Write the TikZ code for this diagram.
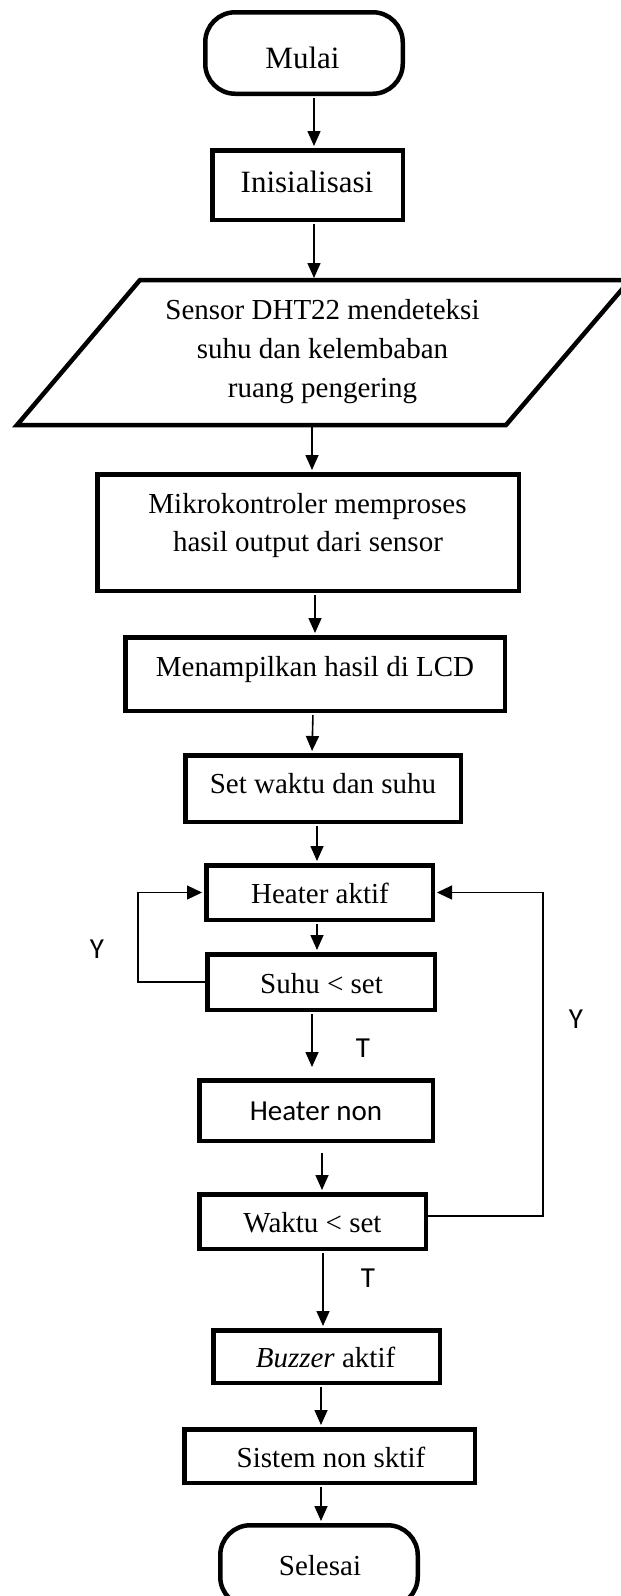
\documentclass[tikz,border=0pt]{standalone}
\usepackage{fontspec}
\setmainfont{Liberation Serif}
\newfontfamily\calib{Carlito}
\usetikzlibrary{arrows.meta}
\begin{document}
\begin{tikzpicture}[x=1pt,y=-1pt,
  box/.style={draw, line width=4.5pt, inner sep=0pt, rectangle},
  term/.style={box, rounded corners=30pt},
  txt/.style={anchor=base, inner sep=0pt, font=\fontsize{29}{35}\selectfont},
  bigtxt/.style={anchor=base, inner sep=0pt, font=\fontsize{31}{35}\selectfont},
  lbl/.style={anchor=base, inner sep=0pt, font=\calib\fontsize{29}{35}\selectfont},
  arr/.style={line width=1.6pt, -{Triangle[length=15pt,width=13pt]}, shorten >=2pt, shorten <=2pt},
  looparr/.style={line width=1.3pt, -{Triangle[length=15pt,width=14pt]}, shorten >=2pt},
]
\useasboundingbox (0,0) rectangle (621,1596);
\clip (0,0) rectangle (621,1596);

% boxes
\node[term, minimum width=197.5pt, minimum height=81.5pt] (mulai) at (304,53) {};
\node[box, minimum width=190.5pt, minimum height=69.5pt] (init) at (307.5,185) {};
\coordinate (p1) at (140,280);
\coordinate (p2) at (630,280);
\coordinate (p3) at (506,425);
\coordinate (p4) at (17,425);
\draw[line width=4.5pt] (p1) -- (p2) -- (p3) -- (p4) -- cycle;
\node[box, minimum width=421.5pt, minimum height=116.5pt] (mikro) at (308,532.5) {};
\node[box, minimum width=379.5pt, minimum height=73.5pt] (lcd) at (315,674) {};
\node[box, minimum width=275.5pt, minimum height=66.5pt] (setw) at (323,788.5) {};
\node[box, minimum width=226.5pt, minimum height=54.5pt] (hakt) at (319.5,892.5) {};
\node[box, minimum width=227.5pt, minimum height=55.5pt] (suhu) at (321,982) {};
\node[box, minimum width=233.5pt, minimum height=60.5pt] (hnon) at (316,1110.5) {};
\node[box, minimum width=226.5pt, minimum height=54.5pt] (waktu) at (312.5,1221.5) {};
\node[box, minimum width=226.5pt, minimum height=52.5pt] (buzz) at (326.5,1356.5) {};
\node[box, minimum width=290.5pt, minimum height=53.5pt] (sist) at (329.5,1456) {};
\node[term, minimum width=197.5pt, minimum height=81.5pt] (seles) at (319,1566) {};

% texts
\node[bigtxt] (tmulai) at (302.5,68) {Mulai};
\node[bigtxt] (tinit) at (307,192) {Inisialisasi};
\node[txt] (tsens1) at (322.5,319) {Sensor DHT22 mendeteksi};
\node[txt] (tsens2) at (322.5,358) {suhu dan kelembaban};
\node[txt] (tsens3) at (322.5,397) {ruang pengering};
\node[txt] (tmik1) at (307.5,513) {Mikrokontroler memproses};
\node[txt] (tmik2) at (308,551) {hasil output dari sensor};
\node[txt] (tlcd) at (315,676) {Menampilkan hasil di LCD};
\node[txt] (tset) at (323,793) {Set waktu dan suhu};
\node[txt] (thakt) at (320,903) {Heater aktif};
\node[txt] (tsuhu) at (321.5,993) {Suhu < set};
\node[lbl] (thnon) at (316,1120) {Heater non};
\node[txt] (twaktu) at (312.5,1232) {Waktu < set};
\node[txt] (tbuzz) at (325.5,1367) {\textit{Buzzer} aktif};
\node[txt] (tsist) at (331,1467) {Sistem non sktif};
\node[txt] (tseles) at (320,1575) {Selesai};

% labels
\node[lbl] (y1) at (97,958) {Y};
\node[lbl] (t1) at (363,1057) {T};
\node[lbl] (y2) at (576,1028) {Y};
\node[lbl] (t2) at (368,1287) {T};

% connector x positions
\coordinate (c1) at (314,0);
\coordinate (ptop) at (314,280);
\coordinate (pbot) at (312,425);
\coordinate (c3) at (312,0);
\coordinate (c4) at (315,0);
\coordinate (c5a) at (313,0);
\coordinate (c5b) at (312,0);
\coordinate (c6) at (317,0);
\coordinate (g1) at (312,1067);
\coordinate (g2) at (322,1153);
\coordinate (c10) at (323,0);
\coordinate (c11) at (321,0);
\coordinate (lx) at (138,0);
\coordinate (rx) at (543,0);
\coordinate (ry) at (0,1216);

% connectors
\draw[arr] (mulai.south -| c1) -- (init.north -| c1);
\draw[arr] (init.south -| c1) -- (ptop);
\draw[arr] (pbot) -- (mikro.north -| c3);
\draw[arr] (mikro.south -| c4) -- (lcd.north -| c4);
\draw[arr] (lcd.south -| c5a) -- (setw.north -| c5b);
\draw[arr] (setw.south -| c6) -- (hakt.north -| c6);
\draw[arr] (hakt.south -| c6) -- (suhu.north -| c6);
\draw[arr, shorten >=0pt] (suhu.south -| c3) -- (g1);
\draw[arr, shorten <=0pt] (g2) -- (waktu.north -| g2);
\draw[arr] (waktu.south -| c10) -- (buzz.north -| c10);
\draw[arr] (buzz.south -| c11) -- (sist.north -| c11);
\draw[arr] (sist.south -| c11) -- (seles.north -| c11);

\draw[looparr] (suhu.west) -- (suhu.west -| lx) -- (hakt.west -| lx) -- (hakt.west);
\draw[looparr] (waktu.east |- ry) -- (rx |- ry) -- (hakt.east -| rx) -- (hakt.east);
\end{tikzpicture}
\end{document}
